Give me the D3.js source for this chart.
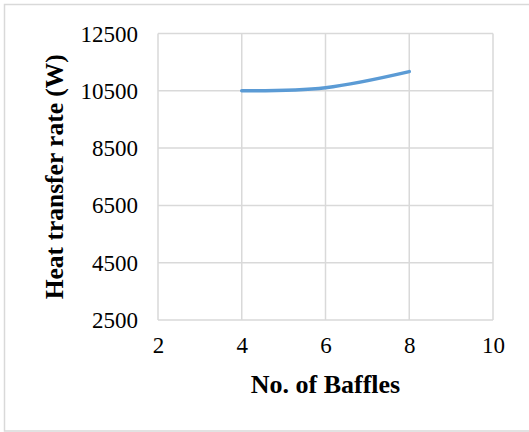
<!DOCTYPE html>
<html>
<head>
<meta charset="utf-8">
<script src="https://cdn.jsdelivr.net/npm/d3@7/dist/d3.min.js"></script>
<style>
  html, body { margin: 0; padding: 0; background: #fff; }
  svg { display: block; }
  text { font-family: "Liberation Serif", "Times New Roman", serif; fill: #000; }
</style>
</head>
<body>
<svg id="chart" width="529" height="432"></svg>
<script>
// Heat transfer rate against number of baffles
const baffles = [4, 6, 8];
const heatRate = [10500, 10610, 11170];
const xTicks = [2, 4, 6, 8, 10];
const yTicks = [2500, 4500, 6500, 8500, 10500, 12500];
const xTitle = "No. of Baffles";
const yTitle = "Heat transfer rate (W)";

const svg = d3.select("#chart");
const W = 529, H = 432;
const plot = { left: 158, right: 493, top: 33.5, bottom: 320 };

// outer chart frame
svg.append("rect")
  .attr("x", 4.5).attr("y", 4.5)
  .attr("width", W).attr("height", H - 5.5)
  .attr("fill", "#fff").attr("stroke", "#d9d9d9").attr("stroke-width", 1.5);

const x = d3.scaleLinear().domain([2, 10]).range([plot.left, plot.right]);
const y = d3.scaleLinear().domain([2500, 12500]).range([plot.bottom, plot.top]);

// vertical gridlines
svg.append("g").selectAll("line").data(xTicks).join("line")
  .attr("x1", d => x(d)).attr("x2", d => x(d))
  .attr("y1", plot.top).attr("y2", plot.bottom)
  .attr("stroke", "#d9d9d9").attr("stroke-width", 1.5);

// horizontal gridlines
svg.append("g").selectAll("line").data(yTicks).join("line")
  .attr("x1", plot.left).attr("x2", plot.right)
  .attr("y1", d => y(d)).attr("y2", d => y(d))
  .attr("stroke", "#d9d9d9").attr("stroke-width", 1.5);

// y tick labels
const yAxis = d3.axisLeft(y).tickValues(yTicks).tickSize(0).tickPadding(20).tickFormat(d3.format("d"));
const gy = svg.append("g").attr("transform", `translate(${plot.left},0)`).call(yAxis);
gy.select(".domain").remove();
gy.selectAll("text").style("font-size", "23px").style("font-family", "Liberation Serif").attr("dy", "0.33em");

// x tick labels
const xAxis = d3.axisBottom(x).tickValues(xTicks).tickSize(0).tickPadding(17).tickFormat(d3.format("d"));
const gx = svg.append("g").attr("transform", `translate(0,${plot.bottom})`).call(xAxis);
gx.select(".domain").remove();
gx.selectAll("text").style("font-size", "23px").style("font-family", "Liberation Serif");

// series line
const line = d3.line()
  .x((d, i) => x(baffles[i]))
  .y(d => y(d))
  .curve(d3.curveCatmullRom.alpha(0.5));
svg.append("path")
  .datum(heatRate)
  .attr("d", line)
  .attr("fill", "none")
  .attr("stroke", "#5b9bd5")
  .attr("stroke-width", 3.5)
  .attr("stroke-linecap", "round");

// axis titles
svg.append("text")
  .attr("x", (plot.left + plot.right) / 2).attr("y", 393)
  .attr("text-anchor", "middle")
  .style("font-size", "26px").style("font-weight", "bold")
  .text(xTitle);

svg.append("text")
  .attr("transform", `translate(63,${(plot.top + plot.bottom) / 2}) rotate(-90)`)
  .attr("text-anchor", "middle")
  .style("font-size", "25.5px").style("font-weight", "bold")
  .text(yTitle);
</script>
</body>
</html>
